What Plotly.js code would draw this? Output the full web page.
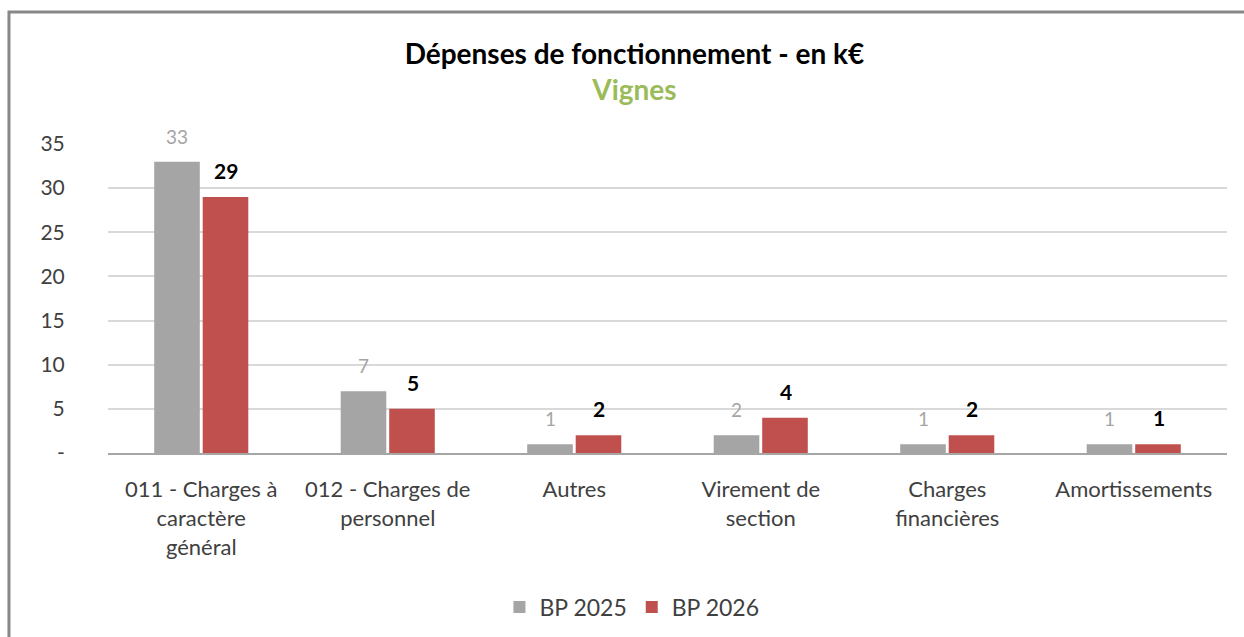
<!DOCTYPE html>
<html>
<head>
<meta charset="utf-8">
<script src="https://cdn.plot.ly/plotly-3.0.1.min.js"></script>
<style>
html,body{margin:0;padding:0;background:#fff;}
#chart{width:1244px;height:637px;}
</style>
</head>
<body>
<div id="chart"></div>
<script>
const categories = ["011 - Charges à<br>caractère<br>général", "012 - Charges de<br>personnel", "Autres", "Virement de<br>section", "Charges<br>financières", "Amortissements"];
const bp2025 = [33, 7, 1, 2, 1, 1];
const bp2026 = [29, 5, 2, 4, 2, 1];
const yTickVals = [0, 5, 10, 15, 20, 25, 30, 35];
const yTickText = ["-", "5", "10", "15", "20", "25", "30", "35"];

const FONT = "Lato, 'Open Sans', sans-serif";

const traces = [
  {type: 'bar', name: 'BP 2025', x: categories, y: bp2025, marker: {color: '#A5A5A5'}, hoverinfo: 'skip'},
  {type: 'bar', name: 'BP 2026', x: categories, y: bp2026, marker: {color: '#C0504D'}, hoverinfo: 'skip'}
];

const annotations = [];
categories.forEach((c, i) => {
  annotations.push({x: c, y: bp2025[i], xref: 'x', yref: 'y', text: String(bp2025[i]), showarrow: false,
    xanchor: 'center', yanchor: 'bottom', xshift: -24, yshift: 12, font: {family: FONT, size: 19, color: '#A5A5A5'}});
  annotations.push({x: c, y: bp2026[i], xref: 'x', yref: 'y', text: '<b>' + bp2026[i] + '</b>', showarrow: false,
    xanchor: 'center', yanchor: 'bottom', xshift: 25, yshift: 12, font: {family: FONT, size: 21, color: '#000000'}});
});

const layout = {
  width: 1244, height: 637,
  margin: {l: 108, r: 17, t: 144, b: 184},
  paper_bgcolor: '#fff', plot_bgcolor: '#fff',
  font: {family: FONT, size: 21, color: '#404040'},
  title: {text: '<b>Dépenses de fonctionnement - en k€</b><br><b><span style="color:#9BBB59">Vignes</span></b>',
    x: 0.51, xanchor: 'center', y: 0.9, yanchor: 'top', font: {family: FONT, size: 28, color: '#000'}},
  barmode: 'group', bargap: 0.48, bargroupgap: 0.06,
  showlegend: true,
  legend: {orientation: 'h', xref: 'container', yref: 'container', x: 0.508, xanchor: 'center', y: 0.047, yanchor: 'middle',
    font: {family: FONT, size: 23, color: '#404040'}, traceorder: 'normal'},
  xaxis: {type: 'category', showgrid: false, showline: true, linecolor: '#A6A6A6', linewidth: 2,
    ticks: 'outside', ticklen: 16, tickcolor: 'rgba(0,0,0,0)', tickfont: {family: FONT, size: 22, color: '#404040'}, fixedrange: true},
  yaxis: {range: [0, 35], tickvals: yTickVals, ticktext: yTickText, showgrid: true, gridcolor: '#D9D9D9', gridwidth: 2,
    zeroline: false, showline: false, ticks: 'outside', ticklen: 38, tickcolor: 'rgba(0,0,0,0)',
    tickfont: {family: FONT, size: 21, color: '#404040'}, fixedrange: true},
  annotations: annotations,
  shapes: [{type: 'rect', xref: 'paper', yref: 'paper', x0: -0.0885, x1: 1.03, y0: -0.62, y1: 1.427,
    line: {color: '#888888', width: 3}, fillcolor: 'rgba(0,0,0,0)', layer: 'below'}]
};

Plotly.newPlot('chart', traces, layout, {displayModeBar: false, staticPlot: true});
</script>
</body>
</html>
